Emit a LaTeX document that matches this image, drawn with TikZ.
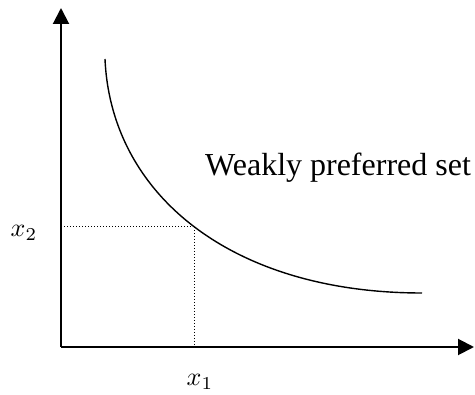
\documentclass[tikz,border=0pt]{standalone}
\usepackage{fontspec}
\setmainfont{Liberation Serif}
\usetikzlibrary{arrows.meta, calc}

\begin{document}
\begin{tikzpicture}[
      x=1pt, y=-1pt,
      every node/.style={inner sep=0pt},
      axis/.style={line width=2pt, -{Triangle[width=16pt, length=16pt]}},
      guide/.style={line width=1pt, dash pattern=on 1pt off 2pt},
      lbl/.style={scale=2.6},
    ]
    \useasboundingbox (0,0) rectangle (475,395);
    \coordinate (o)    at (61,347);
    \coordinate (ytop) at (61,8);
    \coordinate (xend) at (474,347);

    \draw[axis] (o) -- (ytop);
    \draw[axis] (o) -- (xend);

    % indifference curve
    \draw[line width=1.4pt] (105,59) .. controls (111,195) and (232,293) .. (422,293)
      coordinate[pos=0.5] (bundle);

    \draw[guide] (bundle -| o) -- (bundle);
    \draw[guide] (bundle) -- (bundle |- o);

    \node[lbl] (xtwo) at (24,233) {$x_2$};
    \node[lbl] (xone) at (200,382) {$x_1$};
    \node[font=\fontsize{32}{38}\selectfont, anchor=base west] (wps) at (205,176) {Weakly preferred set};
  \end{tikzpicture}
\end{document}
